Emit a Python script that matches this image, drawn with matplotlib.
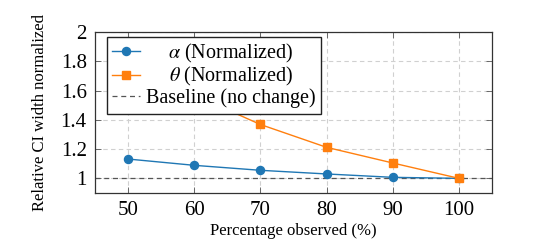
import numpy as np
import matplotlib
matplotlib.use('Agg')
import matplotlib.pyplot as plt
from matplotlib import rc

rc('font', **{'family': 'serif', 'serif': ['Liberation Serif', 'DejaVu Serif'], 'size': 15})
rc('mathtext', fontset='stix')

# percentage of data observed
pct = [50, 60, 70, 80, 90, 100]

# relative CI width (normalized)
alpha_norm = [1.132, 1.089, 1.055, 1.030, 1.007, 1.000]
theta_norm = [1.82, 1.57, 1.368, 1.212, 1.105, 1.000]

baseline = 1.0

BLUE = '#1f77b4'
ORANGE = '#ff7f0e'

fig = plt.figure(figsize=(5.38, 2.43), dpi=100)
ax = fig.add_axes([0.1766, 0.2058, 0.7379, 0.6625])

ax.plot(pct, alpha_norm, color=BLUE, marker='o', markersize=5.8, linewidth=1.0,
        label=r'$\alpha$ (Normalized)', zorder=3)
ax.plot(pct, theta_norm, color=ORANGE, marker='s', markersize=5.5, linewidth=1.0,
        label=r'$\theta$ (Normalized)', zorder=3)
ax.axhline(baseline, color='#555555', linestyle=(0, (4, 3)), linewidth=0.9,
           label='Baseline (no change)', zorder=2)

ax.set_xlim((45, 105))
ax.set_ylim((0.9, 2.0))
ax.set_xticks(pct)
ax.set_yticks([1, 1.2, 1.4, 1.6, 1.8, 2])
ax.set_yticklabels(['1', '1.2', '1.4', '1.6', '1.8', '2'])
ax.tick_params(direction='in', top=True, right=True, length=4, width=0.6,
               color='#555555', pad=6)
ax.grid(True, color='#d0d0d0', linestyle=(0, (4, 3)), linewidth=0.8)
for s in ax.spines.values():
    s.set_linewidth(0.9)
    s.set_color('#333333')

ax.set_xlabel('Percentage observed (%)', fontsize=12, labelpad=2)
ax.set_ylabel('Relative CI width normalized', fontsize=12, labelpad=9)

leg = ax.legend(loc='upper left', bbox_to_anchor=(0.03, 0.97), borderaxespad=0,
                fancybox=False, framealpha=1, edgecolor='#222222', fontsize=14.5,
                handlelength=1.4, borderpad=0.25, labelspacing=0.02,
                handletextpad=0.3)
leg.get_frame().set_linewidth(1.0)

# center the legend entries in their column, the way pgfplots does
fig.canvas.draw()
r = fig.canvas.get_renderer()
texts = leg.get_texts()
widths = [t.get_window_extent(r).width for t in texts]
wmax = max(widths)
for t, w in zip(texts, widths):
    t.set_x((wmax - w) / 2.0)

fig.savefig('out.png', dpi=100)
plt.close(fig)
